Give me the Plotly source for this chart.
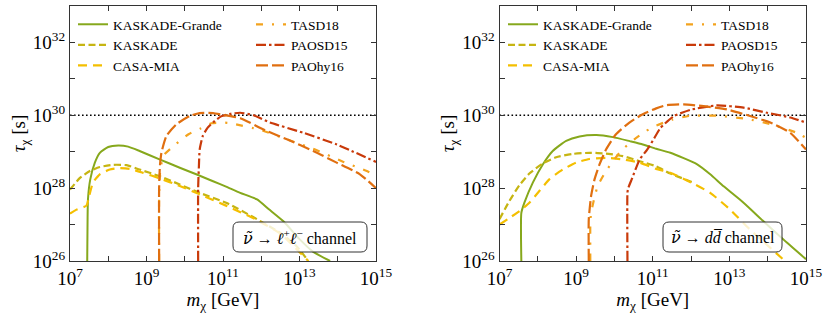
import numpy as np
import plotly.graph_objects as go

# all curves stored as log10 values
# --- left panel: sneutrino -> l+ l- ---
kg_l_x = [7.45, 7.46, 7.47, 7.53, 7.65, 7.78, 8.0, 8.26, 8.52, 8.82, 9.34, 9.87, 10.3, 10.74, 11.08,
          11.45, 11.89, 12.2, 12.58, 13.0, 13.36, 13.8]
kg_l_y = [26.0, 27.2, 27.7, 28.24, 28.7, 28.97, 29.13, 29.17, 29.14, 29.02, 28.79, 28.56, 28.38, 28.19, 28.04,
          27.87, 27.69, 27.42, 27.09, 26.6, 26.25, 26.0]
kas_l_x = [7.0, 7.26, 7.52, 7.78, 8.13, 8.48, 8.82, 9.34, 9.87, 10.39, 11.08, 11.8, 12.5, 12.93, 13.23]
kas_l_y = [27.96, 28.28, 28.47, 28.58, 28.64, 28.63, 28.51, 28.33, 28.1, 27.87, 27.6, 27.2, 26.77, 26.4, 26.0]
casa_l_x = [7.0, 7.17, 7.43, 7.5, 7.6, 7.78, 8.04, 8.3, 8.56, 8.91, 9.34, 9.87, 10.39, 11.08, 11.8, 12.5, 13.23]
casa_l_y = [27.3, 27.41, 27.52, 27.78, 28.15, 28.38, 28.51, 28.55, 28.53, 28.42, 28.27, 28.06, 27.83, 27.52,
            27.17, 26.75, 26.0]
tasd_l_x = [9.33, 9.33, 9.36, 9.45, 9.78, 10.1, 10.4, 10.7, 11.0, 11.2, 11.97, 12.7, 13.36, 14.15, 14.76, 15.0]
tasd_l_y = [26.0, 27.8, 28.5, 28.9, 29.22, 29.48, 29.63, 29.78, 29.8, 29.78, 29.6, 29.33, 29.08, 28.72, 28.47, 28.35]
paosd_l_x = [10.35, 10.35, 10.37, 10.39, 10.47, 10.6, 10.78, 10.95, 11.2, 11.45, 11.8, 12.23, 13.1, 13.97, 15.0]
paosd_l_y = [26.0, 28.0, 28.6, 29.06, 29.43, 29.66, 29.84, 29.97, 30.04, 30.07, 30.0, 29.8, 29.52, 29.2, 28.72]
paohy_l_x = [9.33, 9.33, 9.35, 9.39, 9.52, 9.78, 10.13, 10.39, 10.74, 11.0, 11.45, 12.06, 12.67, 13.36, 13.97,
             14.58, 15.0]
paohy_l_y = [26.0, 28.0, 28.6, 28.97, 29.43, 29.75, 29.98, 30.06, 30.06, 30.01, 29.92, 29.61, 29.34, 29.02, 28.7,
             28.38, 28.0]

# --- right panel: sneutrino -> d dbar ---
kg_r_x = [7.57, 7.57, 7.65, 7.87, 8.13, 8.39, 8.74, 9.09, 9.53, 9.96, 10.4, 10.74, 11.09, 11.46, 12.15, 12.5,
          12.85, 13.37, 13.89, 14.41, 15.0]
kg_r_y = [26.0, 27.32, 27.6, 28.15, 28.65, 29.02, 29.3, 29.42, 29.46, 29.4, 29.29, 29.2, 29.08, 28.97, 28.66,
          28.38, 28.05, 27.6, 27.09, 26.59, 26.05]
kas_r_x = [7.0, 7.26, 7.52, 7.78, 8.13, 8.48, 8.91, 9.35, 9.78, 10.22, 10.66, 11.09, 11.46, 12.07]
kas_r_y = [27.15, 27.65, 28.08, 28.4, 28.68, 28.85, 28.94, 28.97, 28.95, 28.88, 28.74, 28.6, 28.4, 28.15]
casa_r_x = [7.0, 7.26, 7.57, 7.78, 8.04, 8.3, 8.65, 9.0, 9.35, 9.78, 10.22, 10.66, 11.09, 11.46, 12.07, 12.5,
            13.02, 13.54, 14.07, 14.45]
casa_r_y = [27.0, 27.18, 27.41, 27.6, 27.92, 28.24, 28.51, 28.7, 28.8, 28.83, 28.79, 28.7, 28.53, 28.42, 28.12,
            27.87, 27.41, 26.86, 26.36, 26.0]
tasd_r_x = [9.37, 9.37, 9.39, 9.56, 9.78, 10.17, 10.52, 10.83, 11.05, 11.5, 11.94, 12.67, 13.46, 14.1, 14.76, 15.0]
tasd_r_y = [26.0, 27.0, 27.32, 28.05, 28.47, 29.02, 29.34, 29.57, 29.7, 29.88, 29.98, 29.99, 29.9, 29.75, 29.52,
            29.38]
paosd_r_x = [10.34, 10.34, 10.36, 10.45, 10.66, 10.85, 11.0, 11.2, 11.54, 11.98, 12.67, 13.37, 13.98, 14.59, 15.0]
paosd_r_y = [26.0, 27.88, 28.0, 28.24, 28.79, 29.05, 29.3, 29.65, 29.97, 30.15, 30.27, 30.21, 30.07, 29.94, 29.8]
paohy_r_x = [9.33, 9.33, 9.39, 9.48, 9.61, 9.78, 10.04, 10.39, 10.74, 11.09, 11.37, 11.8, 12.33, 12.94, 13.54,
             14.07, 14.59, 15.0]
paohy_r_y = [26.0, 27.14, 27.78, 28.24, 28.65, 29.06, 29.48, 29.8, 30.03, 30.19, 30.28, 30.3, 30.25, 30.16, 29.98,
             29.8, 29.52, 29.06]

x_ticks = [7, 8, 9, 10, 11, 12, 13, 14, 15]
y_ticks = [26, 27, 28, 29, 30, 31, 32, 33]
tau_limit = 30  # dotted reference line, 10^30 s

names = ["KASKADE-Grande", "KASKADE", "CASA-MIA", "TASD18", "PAOSD15", "PAOhy16"]
colors = ["#86a81c", "#c6b512", "#f4bf00", "#f3a31e", "#c93a0a", "#e06f10"]
dashes = ["solid", "7px,3.5px", "9px,6px", "7px,9px,2px,9px", "10px,3px,2.5px,3px", "12px,4px"]

panels = [
    [(kg_l_x, kg_l_y), (kas_l_x, kas_l_y), (casa_l_x, casa_l_y),
     (tasd_l_x, tasd_l_y), (paosd_l_x, paosd_l_y), (paohy_l_x, paohy_l_y)],
    [(kg_r_x, kg_r_y), (kas_r_x, kas_r_y), (casa_r_x, casa_r_y),
     (tasd_r_x, tasd_r_y), (paosd_r_x, paosd_r_y), (paohy_r_x, paohy_r_y)],
]

FONT = "Liberation Serif"
AX = "#333333"
# plot area in pixels: x 70..806, y 6..261
PW, PH = 736.0, 255.0


def px_x(px):
    return (px - 70) / PW


def px_y(py):
    return (261 - py) / PH


fig = go.Figure()

for p, curves in enumerate(panels):
    xa = "x" if p == 0 else "x2"
    ya = "y" if p == 0 else "y2"
    # horizontal dotted line at 10^30
    fig.add_trace(go.Scatter(
        x=[10.0 ** x_ticks[0], 10.0 ** x_ticks[-1]], y=[10.0 ** tau_limit] * 2,
        mode="lines", line=dict(color="black", width=1.6, dash="1.6px,2.4px"),
        xaxis=xa, yaxis=ya, showlegend=False, hoverinfo="skip"
    ))
    for i, (cx, cy) in enumerate(curves):
        leg = ["legend", "legend2", "legend3", "legend4"][p * 2 + (0 if i < 3 else 1)]
        fig.add_trace(go.Scatter(
            x=10.0 ** np.array(cx), y=10.0 ** np.array(cy),
            mode="lines", name=names[i],
            line=dict(color=colors[i], width=2.2 if i != 0 else 2.0, dash=dashes[i],
                      shape="spline", smoothing=0.5),
            xaxis=xa, yaxis=ya, legend=leg
        ))

x_text = [f"10<sup>{e}</sup>" if e % 2 == 1 else "" for e in x_ticks]
y_text = [f"10<sup>{e}</sup>" if e % 2 == 0 and e < 33 else "" for e in y_ticks]

axis_common = dict(
    type="log", showgrid=False, zeroline=False, showline=True, linecolor=AX, linewidth=1.2,
    mirror="allticks", ticks="inside", ticklen=5, tickwidth=1, tickcolor=AX, tickangle=0,
    tickfont=dict(family=FONT, size=19, color="black"),
)
xaxis_kw = dict(axis_common, range=[7, 15], tickvals=[10.0 ** e for e in x_ticks], ticktext=x_text,
                title=dict(text="<i>m</i><sub>χ</sub> [GeV]", font=dict(family=FONT, size=19, color="black"),
                           standoff=4))
yaxis_kw = dict(axis_common, range=[26, 33], tickvals=[10.0 ** e for e in y_ticks], ticktext=y_text,
                title=dict(text="<i>τ</i><sub>χ</sub> [s]", font=dict(family=FONT, size=19, color="black"),
                           standoff=2))

legend_font = dict(family=FONT, size=13.5, color="black")
leg_kw = dict(xref="paper", yref="paper", xanchor="left", yanchor="top", font=legend_font,
              bgcolor="rgba(0,0,0,0)", borderwidth=0, tracegroupgap=0, itemwidth=30)

fig.update_layout(
    width=830, height=320,
    margin=dict(l=70, r=24, t=6, b=59, autoexpand=False),
    plot_bgcolor="white", paper_bgcolor="white",
    font=dict(family=FONT, color="black"),
    xaxis=dict(xaxis_kw, domain=[0, 306 / PW], anchor="y"),
    yaxis=dict(yaxis_kw, domain=[0, 1], anchor="x"),
    xaxis2=dict(xaxis_kw, domain=[429.5 / PW, 1], anchor="y2"),
    yaxis2=dict(yaxis_kw, domain=[0, 1], anchor="x2"),
    legend=dict(leg_kw, x=px_x(73), y=px_y(9)),
    legend2=dict(leg_kw, x=px_x(251), y=px_y(9)),
    legend3=dict(leg_kw, x=px_x(503), y=px_y(9)),
    legend4=dict(leg_kw, x=px_x(681), y=px_y(9)),
    showlegend=True,
)


def rounded_box(x0, y0, x1, y1, r=6):
    rx, ry = r / PW, r / PH
    a, b, c, d = px_x(x0), px_y(y1), px_x(x1), px_y(y0)
    return (f"M {a + rx},{b} L {c - rx},{b} Q {c},{b} {c},{b + ry} L {c},{d - ry} Q {c},{d} {c - rx},{d} "
            f"L {a + rx},{d} Q {a},{d} {a},{d - ry} L {a},{b + ry} Q {a},{b} {a + rx},{b} Z")


nu_tilde = "<span style=\"font-family:'DejaVu Serif'\"><i>ν̃</i></span>"
boxes = [
    ((233, 222, 367, 252), nu_tilde + " → <i>ℓ</i><sup>+</sup><i>ℓ</i><sup>−</sup> channel"),
    ((663, 222, 782, 252), nu_tilde + " → <i>d</i><i>d̅</i> channel"),
]
for (x0, y0, x1, y1), label in boxes:
    fig.add_shape(type="path", path=rounded_box(x0, y0, x1, y1), xref="paper", yref="paper",
                  line=dict(color=AX, width=1), fillcolor="rgba(255,255,255,0.8)", layer="above")
    fig.add_annotation(x=px_x((x0 + x1) / 2), y=px_y((y0 + y1) / 2), xref="paper", yref="paper",
                       text=label, showarrow=False, font=dict(family=FONT, size=16, color="black"),
                       xanchor="center", yanchor="middle")

# page body has a default 8px margin; drop it so the figure sits at the window corner
fig.write_html("out.html", post_script="document.body.style.margin='0px';",
               config={"displayModeBar": False})
